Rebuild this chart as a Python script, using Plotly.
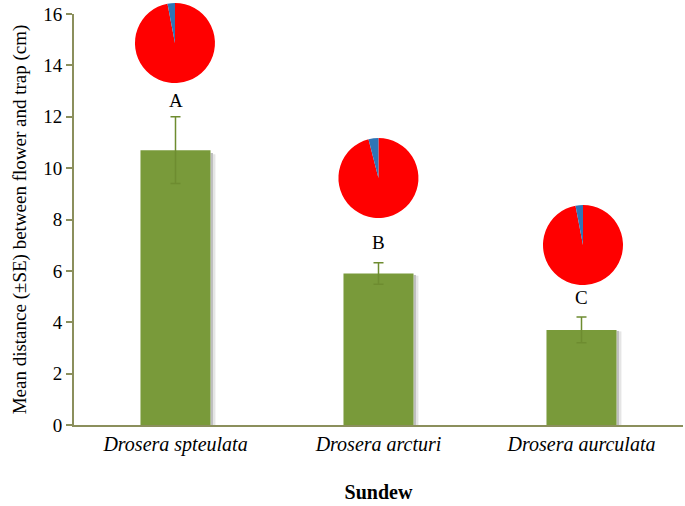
import plotly.graph_objects as go

species = ["Drosera spteulata", "Drosera arcturi", "Drosera aurculata"]
means = [10.7, 5.9, 3.7]
se = [1.3, 0.42, 0.5]
letters = ["A", "B", "C"]
letter_y = [12.65, 7.1, 4.95]
pie_blue = [3, 4, 3]
pie_red = [97, 96, 97]

bar_color = "#799A3A"
axis_color = "#8B8F5C"
font_family = "Liberation Serif, Times New Roman, serif"

fig = go.Figure()

# soft shadow to the right of each bar
fig.add_trace(go.Bar(
    x=species, y=[m * 0.99 for m in means], width=0.012, offset=0.1725,
    marker=dict(color="rgba(110,110,110,0.45)", line=dict(width=0)),
    hoverinfo="skip", showlegend=False,
))
fig.add_trace(go.Bar(
    x=species, y=[m * 0.985 for m in means], width=0.012, offset=0.1845,
    marker=dict(color="rgba(150,150,150,0.25)", line=dict(width=0)),
    hoverinfo="skip", showlegend=False,
))

fig.add_trace(go.Bar(
    x=species, y=means, width=0.345, offset=-0.1725,
    marker=dict(color=bar_color, line=dict(width=0)),
    error_y=dict(type="data", array=se, visible=True, color="#6E8C30", thickness=1.5, width=5),
    showlegend=False,
))

for sp, ly, lt in zip(species, letter_y, letters):
    fig.add_annotation(x=sp, y=ly, xref="x", yref="y", text=lt, showarrow=False,
                       font=dict(family=font_family, size=19, color="black"))

# pies placed above bars (domain fractions of plot area, which spans full top)
plot_w, plot_h = 609, 425
pie_centers = [(0.1658, 0.8988), (0.4999, 0.5812), (0.8358, 0.4235)]
rx, ry = 40 / plot_w, 40 / plot_h
for (cx, cy), b, r in zip(pie_centers, pie_blue, pie_red):
    fig.add_trace(go.Pie(
        values=[r, b], labels=["Pollinator", "Other"], sort=False,
        direction="clockwise", rotation=0,
        marker=dict(colors=["#FF0000", "#2E75B6"], line=dict(width=0)),
        textinfo="none", hoverinfo="skip", showlegend=False,
        domain=dict(x=[cx - rx, cx + rx], y=[max(0, cy - ry), min(1, cy + ry)]),
    ))

fig.update_layout(
    width=685, height=506,
    margin=dict(l=74, r=2, t=0, b=81),
    paper_bgcolor="white", plot_bgcolor="white",
    bargap=0.655,
    font=dict(family=font_family, size=16, color="black"),
    xaxis=dict(
        automargin=False,
        showline=True, linecolor=axis_color, linewidth=2,
        ticks="", showgrid=False,
        tickfont=dict(family=font_family, size=20, style="italic"),
        title=dict(text="<b>Sundew</b>", font=dict(family=font_family, size=20), standoff=30),
    ),
    yaxis=dict(
        automargin=False,
        domain=[0, 411 / 425],
        range=[0, 16], dtick=2, showline=True, linecolor=axis_color, linewidth=2,
        ticks="outside", tickcolor=axis_color, ticklen=6, tickwidth=1.5,
        showgrid=False, zeroline=False,
        tickfont=dict(family=font_family, size=19),
        title=dict(text="Mean distance (±SE) between flower and trap (cm)",
                   font=dict(family=font_family, size=19), standoff=12),
    ),
)

fig.write_html("out.html", config={"displayModeBar": False},
               post_script="document.body.style.margin='0';document.body.style.overflow='hidden';")
